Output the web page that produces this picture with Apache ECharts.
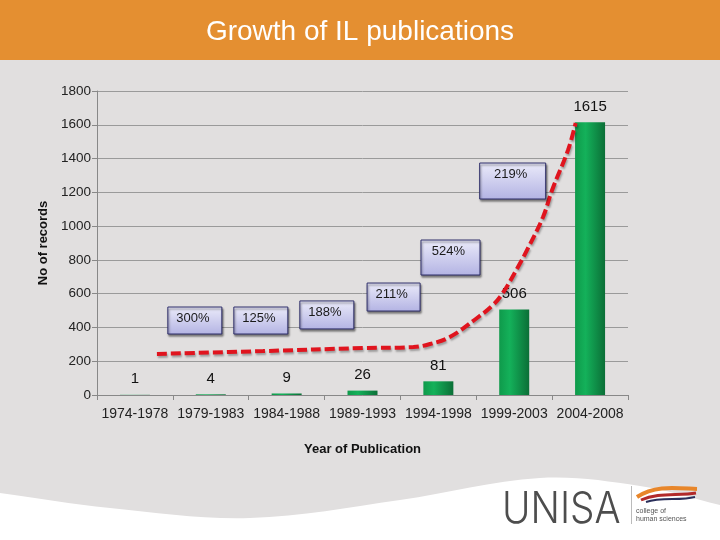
<!DOCTYPE html>
<html>
<head>
<meta charset="utf-8">
<script src="https://cdn.jsdelivr.net/npm/echarts@6/dist/echarts.min.js"></script>
<style>html,body{margin:0;padding:0;background:#fff;}#c{width:720px;height:540px;}</style>
</head>
<body>
<div id="c"></div>
<script>
// ---- data ----
var categories = ['1974-1978','1979-1983','1984-1988','1989-1993','1994-1998','1999-2003','2004-2008'];
var records = [1, 4, 9, 26, 81, 506, 1615];
var yTicks = [0, 200, 400, 600, 800, 1000, 1200, 1400, 1600, 1800];
var growthLabels = ['300%', '125%', '188%', '211%', '524%', '219%'];
// hand-drawn trend line (x in category units, y in records)
var trendX = [0.29, 1.69, 3.01, 3.67, 3.89, 4.15, 4.51, 4.72, 4.85, 5.05, 5.17, 5.38, 5.50, 5.71, 5.81];
var trendY = [243, 260, 278, 284, 302, 343, 456, 533, 604, 758, 859, 1054, 1214, 1451, 1611];

// ---- annotation layout (box anchors in data units, sizes in px) ----
var boxLayout = [
  {x: 0.79, y: 441, w: 54, h: 27},
  {x: 1.66, y: 441, w: 54, h: 27},
  {x: 2.53, y: 474, w: 54, h: 28},
  {x: 3.41, y: 580, w: 53, h: 28},
  {x: 4.16, y: 814, w: 59, h: 35},
  {x: 4.98, y: 1267, w: 66, h: 36}
];

var trendData = trendX.map(function (x, i) { return [x, trendY[i]]; });
var boxData = growthLabels.map(function (t, i) { return [boxLayout[i].x, boxLayout[i].y, i]; });

var FONT = '"Liberation Sans", Arial, sans-serif';
var chart = echarts.init(document.getElementById('c'), null, {renderer: 'canvas'});
var LG = echarts.graphic.LinearGradient;

var option = {
  backgroundColor: '#e1dfdf',
  animation: false,
  title: {
    text: 'Growth of IL publications',
    left: 'center',
    top: 13,
    textStyle: {color: '#ffffff', fontSize: 28, fontWeight: 'normal', fontFamily: FONT}
  },
  graphic: [
    {type: 'rect', z: -10, shape: {x: 0, y: 0, width: 720, height: 60}, style: {fill: '#e48f31'}},
    {type: 'polygon', z: -10, shape: {smooth: 0.35, points: [[-40, 488], [0, 493], [110, 508], [250, 518], [400, 500], [540, 478], [640, 486], [720, 505], [780, 520], [780, 620], [-40, 620]]}, style: {fill: '#ffffff'}},
    {type: 'text', x: 502, y: 488, scaleX: 0.88, style: {text: 'UNISA', fill: '#4d4d4d', font: '300 44px Inter, "Liberation Sans", sans-serif'}},
    {type: 'rect', shape: {x: 631, y: 486, width: 1, height: 38}, style: {fill: '#bbbbbb'}},
    {type: 'text', x: 636, y: 507, style: {text: 'college of\nhuman sciences', fill: '#555555', font: '7px "Liberation Sans", sans-serif', lineHeight: 8}},
    {type: 'bezierCurve', shape: {x1: 637, y1: 497, cpx1: 655, cpy1: 485, cpx2: 675, cpy2: 488, x2: 697, y2: 489}, style: {stroke: '#e8862a', lineWidth: 4, fill: null}},
    {type: 'bezierCurve', shape: {x1: 641, y1: 500, cpx1: 658, cpy1: 492, cpx2: 678, cpy2: 496, x2: 696, y2: 493}, style: {stroke: '#b22a2a', lineWidth: 3, fill: null}},
    {type: 'bezierCurve', shape: {x1: 646, y1: 502, cpx1: 662, cpy1: 497, cpx2: 680, cpy2: 501, x2: 695, y2: 497}, style: {stroke: '#2a2f5a', lineWidth: 2, fill: null}}
  ],
  grid: {left: 97, right: 92, top: 91, bottom: 145, containLabel: false},
  xAxis: [
    {
      type: 'category',
      data: categories,
      axisLine: {lineStyle: {color: '#888888'}},
      axisTick: {show: true, alignWithLabel: false, length: 5, lineStyle: {color: '#888888'}},
      axisLabel: {color: '#222222', fontSize: 14, fontFamily: FONT, margin: 12, interval: 0},
      name: 'Year of Publication',
      nameLocation: 'middle',
      nameGap: 48,
      nameTextStyle: {color: '#111111', fontSize: 13, fontWeight: 'bold', fontFamily: FONT}
    },
    {type: 'value', min: -0.5, max: 6.5, show: false}
  ],
  yAxis: {
    type: 'value',
    min: 0, max: 1800, interval: 200,
    axisLine: {show: true, onZero: false, lineStyle: {color: '#888888'}},
    axisTick: {show: true, length: 5, lineStyle: {color: '#888888'}},
    axisLabel: {color: '#222222', fontSize: 13.5, fontFamily: FONT, margin: 6,
      formatter: function (v) { return yTicks.indexOf(v) >= 0 ? String(v) : ''; }},
    splitLine: {show: true, lineStyle: {color: '#9a9a9a', width: 1}},
    name: 'No of records',
    nameLocation: 'middle',
    nameGap: 43,
    nameRotate: 90,
    nameTextStyle: {color: '#111111', fontSize: 13, fontWeight: 'bold', fontFamily: FONT}
  },
  series: [
    {
      type: 'bar',
      data: records,
      barWidth: 30,
      itemStyle: {
        color: new LG(0, 0, 1, 0, [
          {offset: 0, color: '#0f9a4b'}, {offset: 0.35, color: '#14b15a'}, {offset: 1, color: '#0b6f37'}
        ])
      },
      label: {show: true, position: 'top', distance: 8, color: '#111111', fontSize: 15, fontFamily: FONT},
      z: 2
    },
    {
      type: 'line',
      xAxisIndex: 1,
      data: trendData,
      smooth: 0.4,
      symbol: 'none',
      lineStyle: {color: '#e0141e', width: 4, type: [10, 4], shadowColor: 'rgba(0,0,0,0.3)', shadowBlur: 2, shadowOffsetX: 1, shadowOffsetY: 2},
      z: 3
    },
    {
      type: 'custom',
      xAxisIndex: 1,
      data: boxData,
      z: 4,
      renderItem: function (params, api) {
        var p = api.coord([api.value(0), api.value(1)]);
        var b = boxLayout[api.value(2)];
        var x0 = p[0] - b.w / 2, y0 = p[1] - b.h / 2;
        return {
          type: 'group',
          children: [
            {type: 'rect', shape: {x: x0, y: y0, width: b.w, height: b.h},
              style: {
                fill: new LG(0, 0, 0, 1, [{offset: 0, color: '#ebebfa'}, {offset: 1, color: '#b3b3e3'}]),
                stroke: '#2c2c68', lineWidth: 1,
                shadowColor: 'rgba(0,0,0,0.45)', shadowBlur: 2, shadowOffsetX: 1, shadowOffsetY: 2
              }},
            {type: 'text', x: p[0] - 2, y: y0 + 5,
              style: {text: growthLabels[api.value(2)], fill: '#1a1a1a', font: '13px ' + FONT, align: 'center', verticalAlign: 'top'}}
          ]
        };
      }
    }
  ]
};
chart.setOption(option);
</script>
</body>
</html>
